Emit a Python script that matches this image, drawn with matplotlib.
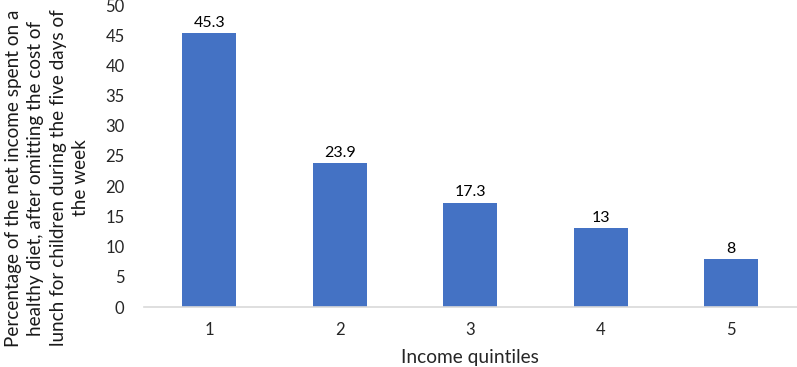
import matplotlib
matplotlib.use("Agg")
import matplotlib.pyplot as plt

categories = ["1", "2", "3", "4", "5"]
values = [45.3, 23.9, 17.3, 13, 8]
value_labels = ["45.3", "23.9", "17.3", "13", "8"]
yticks = [0, 5, 10, 15, 20, 25, 30, 35, 40, 45, 50]

plt.rcParams['font.family'] = ['Lato', 'DejaVu Sans']

fig = plt.figure(figsize=(7.97, 3.67), dpi=100)
ax = fig.add_axes([144/797, 1-307/367, 652.5/797, 302/367])
x = list(range(len(categories)))
bars = ax.bar(x, values, width=0.41, color="#4472C4")
for xi, v, lab in zip(x, values, value_labels):
    ax.text(xi, v + 0.5, lab, ha="center", va="bottom", fontsize=11.5, color="#000000")

ax.set_xlim(-0.5, 4.5)
ax.set_ylim(0, 50)
ax.set_yticks(yticks)
ax.set_yticklabels([str(t) for t in yticks], fontsize=12, color="#262626")
ax.set_xticks(x)
ax.set_xticklabels(categories, fontsize=12, color="#262626")
ax.tick_params(axis="both", length=0)
ax.tick_params(axis="y", pad=14)
ax.tick_params(axis="x", pad=11)
for s in ["top", "right", "left"]:
    ax.spines[s].set_visible(False)
ax.spines["bottom"].set_color("#d9d9d9")
ax.spines["bottom"].set_linewidth(1.2)

ax.set_xlabel("Income quintiles", fontsize=13.8, color="#262626", labelpad=8)
fig.text(47/797, 1-178/367,
         "Percentage of the net income spent on a\nhealthy diet, after omitting the cost of\nlunch for children during the five days of\nthe week",
         rotation=90, ha="center", va="center", multialignment="center",
         fontsize=13.6, color="#1a1a1a", linespacing=1.38)

fig.savefig("out.png", dpi=100)
